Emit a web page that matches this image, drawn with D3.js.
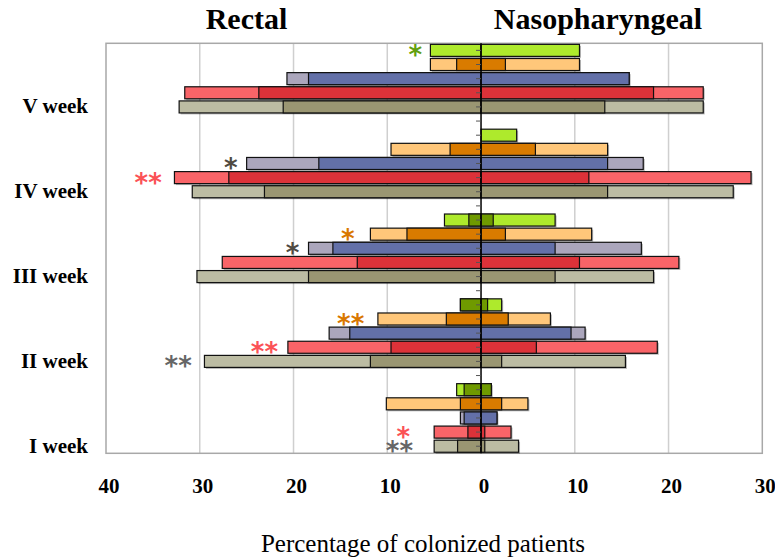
<!DOCTYPE html>
<html lang="en">
<head>
  <meta charset="UTF-8">
  <title>Percentage of colonized patients</title>
  <style>
    body, html {
      margin: 0;
      padding: 0;
      background: white;
    }
  </style>
</head>
<body>
  <svg id="svg" width="775" height="560"></svg>

  <script src="https://d3js.org/d3.v7.min.js"></script>
  <script>
    // weeks from top to bottom, series from top to bottom inside a week
    const weeks = ['V week', 'IV week', 'III week', 'II week', 'I week']
    const series = ['green', 'orange', 'blue', 'red', 'gray']

    // rectal side (left) - whole bar and the darker inner part, one row per series
    const rectalOuter = [
      [5.4, 0, 3.9, 2.2, 2.6],
      [5.4, 9.6, 11.8, 11.0, 10.1],
      [20.7, 25.0, 18.4, 16.2, 2.2],
      [31.6, 32.7, 27.6, 20.6, 5.0],
      [32.2, 30.8, 30.3, 29.5, 5.0]
    ]
    const rectalInner = [
      [0, 0, 1.3, 2.2, 1.8],
      [2.6, 3.3, 7.9, 3.7, 2.2],
      [18.4, 17.3, 15.8, 14.0, 1.8],
      [23.7, 26.9, 13.2, 9.6, 1.4],
      [21.1, 23.1, 18.4, 11.8, 2.5]
    ]

    // nasopharyngeal side (right)
    const nasoOuter = [
      [10.5, 3.8, 7.9, 2.2, 1.1],
      [10.5, 13.5, 11.8, 7.4, 5.0],
      [15.8, 17.3, 17.1, 11.1, 1.7],
      [23.7, 28.8, 21.1, 18.8, 3.2],
      [23.7, 26.9, 18.4, 15.4, 4.0]
    ]
    const nasoInner = [
      [0, 0, 1.3, 0.7, 1.1],
      [2.6, 5.8, 2.6, 2.9, 2.2],
      [15.8, 13.5, 7.9, 9.6, 1.7],
      [18.4, 11.5, 10.5, 5.9, 0.4],
      [13.2, 13.5, 7.9, 2.2, 0.4]
    ]

    const xTicks = [-40, -30, -20, -10, 0, 10, 20, 30]

    // significance marks: week, series row, text, centre in % units
    const marks = [
      { week: 'V week', series: 'green', text: '*', at: -7.0 },
      { week: 'IV week', series: 'blue', text: '*', at: -26.7 },
      { week: 'IV week', series: 'red', text: '**', at: -35.5 },
      { week: 'III week', series: 'orange', text: '*', at: -14.2 },
      { week: 'III week', series: 'blue', text: '*', at: -20.1 },
      { week: 'II week', series: 'orange', text: '**', at: -13.9 },
      { week: 'II week', series: 'red', text: '**', at: -23.1 },
      { week: 'II week', series: 'gray', text: '**', at: -32.3 },
      { week: 'I week', series: 'red', text: '*', at: -8.3 },
      { week: 'I week', series: 'gray', text: '**', at: -8.7 }
    ]

    const lightColor = { green: '#aeea2c', orange: '#ffc77a', blue: '#aba6bc', red: '#f96468', gray: '#bcbca3' }
    const darkColor = { green: '#6f9a00', orange: '#d97b00', blue: '#6370a8', red: '#dc3239', gray: '#9a9672' }
    const markColor = { green: '#62a010', orange: '#d97700', blue: '#4f4a42', red: '#fb5256', gray: '#666666' }

    const serif = '"Liberation Serif", "Times New Roman", serif'

    const svg = d3.select('#svg')
    const plotTop = 43.3, plotBottom = 453.3, plotLeft = 106, plotRight = 762.3

    // one slot per bar, plus an empty slot between weeks
    const slots = []
    weeks.forEach((w, wi) => {
      series.forEach(s => slots.push(w + '|' + s))
      if (wi < weeks.length - 1) slots.push(w + '|gap')
    })

    const y = d3.scaleBand()
      .domain(slots)
      .range([plotTop, plotBottom])
      .paddingInner(0.15)
      .paddingOuter(0.075)

    const x = d3.scaleLinear()
      .domain([-40, 30])
      .range([plotLeft, plotRight])

    const bw = y.bandwidth()
    const rowMid = key => y(key) + bw / 2

    // gridlines
    svg.append('g')
      .selectAll('line')
      .data(xTicks.filter(t => t !== 0 && t > -40 && t < 30))
      .join('line')
      .attr('x1', d => x(d))
      .attr('x2', d => x(d))
      .attr('y1', plotTop)
      .attr('y2', plotBottom)
      .attr('stroke', '#cfcfcf')
      .attr('stroke-width', 1.5)

    // plot frame
    svg.append('rect')
      .attr('x', plotLeft)
      .attr('y', plotTop)
      .attr('width', plotRight - plotLeft)
      .attr('height', plotBottom - plotTop)
      .attr('fill', 'none')
      .attr('stroke', '#a8a8a8')
      .attr('stroke-width', 1.5)

    // build bar records
    const bars = []
    weeks.forEach((w, wi) => {
      series.forEach((s, si) => {
        bars.push({
          key: w + '|' + s,
          series: s,
          lo: rectalOuter[si][wi],
          li: rectalInner[si][wi],
          ro: nasoOuter[si][wi],
          ri: nasoInner[si][wi]
        })
      })
    })

    // each side: light whole bar first, then the dark part on top
    const pieces = []
    bars.forEach(b => {
      if (b.lo > 0) pieces.push({ key: b.key, a: -b.lo, b: 0, light: true, fill: lightColor[b.series] })
      if (b.ro > 0) pieces.push({ key: b.key, a: 0, b: b.ro, light: true, fill: lightColor[b.series] })
      if (b.li > 0) pieces.push({ key: b.key, a: -b.li, b: 0, light: false, fill: darkColor[b.series] })
      if (b.ri > 0) pieces.push({ key: b.key, a: 0, b: b.ri, light: false, fill: darkColor[b.series] })
    })

    // soft shadow under the bars
    svg.append('g')
      .selectAll('rect')
      .data(pieces.filter(p => p.light))
      .join('rect')
      .attr('x', d => x(d.a) + 1.5)
      .attr('y', d => y(d.key) + 1.5)
      .attr('width', d => x(d.b) - x(d.a))
      .attr('height', bw)
      .attr('fill', '#000')
      .attr('opacity', 0.28)

    svg.append('g')
      .selectAll('rect')
      .data(pieces)
      .join('rect')
      .attr('x', d => x(d.a))
      .attr('y', d => y(d.key))
      .attr('width', d => x(d.b) - x(d.a))
      .attr('height', bw)
      .attr('fill', d => d.fill)
      .attr('stroke', '#111')
      .attr('stroke-width', 1.2)

    // zero line with little ticks at every slot
    svg.append('line')
      .attr('x1', x(0))
      .attr('x2', x(0))
      .attr('y1', plotTop)
      .attr('y2', plotBottom)
      .attr('stroke', 'black')
      .attr('stroke-width', 1.5)

    svg.append('g')
      .selectAll('line')
      .data(slots)
      .join('line')
      .attr('x1', x(0) - 5)
      .attr('x2', x(0))
      .attr('y1', d => rowMid(d))
      .attr('y2', d => rowMid(d))
      .attr('stroke', '#555')
      .attr('stroke-width', 1)

    // significance asterisks
    svg.append('g')
      .selectAll('text')
      .data(marks)
      .join('text')
      .text(d => d.text)
      .attr('x', d => x(d.at))
      .attr('y', d => rowMid(d.week + '|' + d.series) + 14)
      .attr('text-anchor', 'middle')
      .attr('font-family', '"DejaVu Sans", sans-serif')
      .attr('font-weight', 'bold')
      .attr('font-size', 26)
      .attr('fill', d => markColor[d.series])

    // week labels, next to the last bar of each week
    svg.append('g')
      .selectAll('text')
      .data(weeks)
      .join('text')
      .text(d => d)
      .attr('x', 88)
      .attr('y', d => rowMid(d + '|gray') + 6.5)
      .attr('text-anchor', 'end')
      .attr('font-family', serif)
      .attr('font-weight', 'bold')
      .attr('font-size', 21)

    // x axis numbers, shown as absolute values
    const xAxis = d3.axisBottom(x)
      .tickValues(xTicks)
      .tickFormat(d => Math.abs(d))
      .tickSize(0)
      .tickPadding(24.5)

    const gx = svg.append('g')
      .attr('transform', `translate(0, ${plotBottom})`)
      .call(xAxis)
    gx.select('.domain').remove()
    gx.selectAll('text')
      .attr('dx', 2.5)
      .attr('font-family', serif)
      .attr('font-weight', 'bold')
      .attr('font-size', 21)
      .attr('fill', 'black')

    // side titles
    svg.append('text')
      .text('Rectal')
      .attr('x', 246.5)
      .attr('y', 29)
      .attr('text-anchor', 'middle')
      .attr('font-family', serif)
      .attr('font-weight', 'bold')
      .attr('font-size', 30)

    svg.append('text')
      .text('Nasopharyngeal')
      .attr('x', 598)
      .attr('y', 29)
      .attr('text-anchor', 'middle')
      .attr('font-family', serif)
      .attr('font-weight', 'bold')
      .attr('font-size', 30)

    svg.append('text')
      .text('Percentage of colonized patients')
      .attr('x', 423)
      .attr('y', 551.7)
      .attr('text-anchor', 'middle')
      .attr('font-family', serif)
      .attr('font-size', 25)
  </script>
</body>
</html>
